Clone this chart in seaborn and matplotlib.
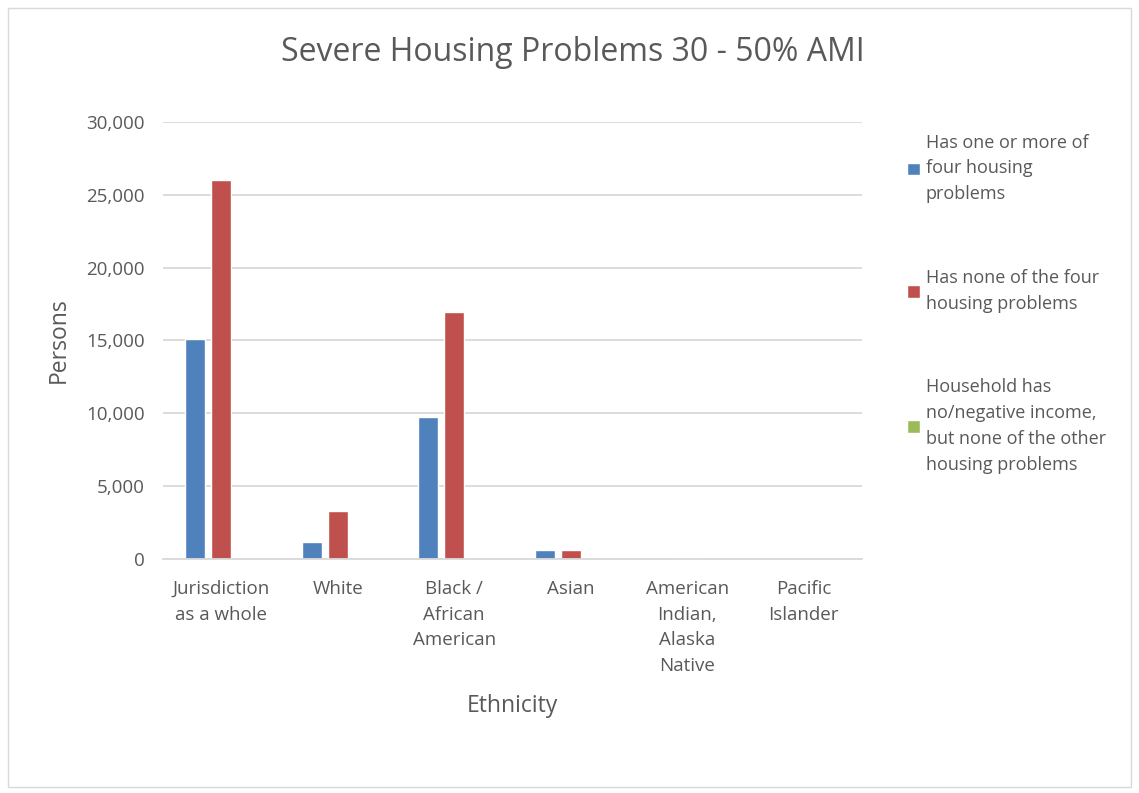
import pandas as pd
import seaborn as sns
import matplotlib.pyplot as plt
from matplotlib.ticker import FuncFormatter
from matplotlib.patches import Rectangle

sns.set_theme(style='white')
plt.rcParams['font.family'] = ['Open Sans', 'DejaVu Sans']

categories = ['Jurisdiction\nas a whole', 'White', 'Black /\nAfrican\nAmerican', 'Asian',
              'American\nIndian,\nAlaska\nNative', 'Pacific\nIslander']
series = ['Has one or more of\nfour housing\nproblems',
          'Has none of the four\nhousing problems',
          'Household has\nno/negative income,\nbut none of the other\nhousing problems']
has_problems = [15100, 1190, 9750, 600, 0, 0]
no_problems = [26000, 3300, 16950, 630, 40, 0]
no_income = [0, 0, 0, 0, 0, 0]
colors = ['#4F81BD', '#C0504D', '#9BBB59']

rows = []
for name, vals in zip(series, [has_problems, no_problems, no_income]):
    for cat, v in zip(categories, vals):
        rows.append({'Ethnicity': cat, 'Persons': v, 'Series': name})
df = pd.DataFrame(rows)

fig = plt.figure(figsize=(11.39, 7.93), dpi=100)
ax = fig.add_axes([0.1431, 0.2951, 0.6137, 0.5511])

sns.barplot(data=df, x='Ethnicity', y='Persons', hue='Series', palette=colors,
            saturation=1, width=0.67, gap=0.23, ax=ax, legend=True)

txt = '#595959'
ax.set_ylim(0, 30000)
ax.set_yticks(range(0, 30001, 5000))
ax.yaxis.set_major_formatter(FuncFormatter(lambda v, p: f'{int(v):,}'))
ax.grid(axis='y', color='#D9D9D9', linewidth=1.3)
ax.set_axisbelow(True)
for s in ['top', 'right', 'left']:
    ax.spines[s].set_visible(False)
ax.spines['bottom'].set_color('#D9D9D9')
ax.spines['bottom'].set_linewidth(1.3)
ax.tick_params(axis='both', colors=txt, labelsize=13.5, length=0)
ax.tick_params(axis='x', pad=15)
ax.tick_params(axis='y', pad=13)
for lab in ax.get_xticklabels():
    lab.set_linespacing(1.55)
ax.set_xlabel('Ethnicity', fontsize=16.5, color=txt, labelpad=14)
ax.set_ylabel('Persons', fontsize=16.5, color=txt, labelpad=11)
fig.suptitle('Severe Housing Problems 30 - 50% AMI', x=0.503, y=0.955,
             fontsize=23, color=txt)

handles, labels = ax.get_legend_handles_labels()
leg = ax.legend(handles, labels, loc='upper left', bbox_to_anchor=(1.054, 0.99),
                frameon=False, fontsize=13, labelcolor=txt, labelspacing=3.65,
                handlelength=0.7, handleheight=0.7, handletextpad=0.35, borderaxespad=0)
for t in leg.get_texts():
    t.set_linespacing(1.55)

fig.patches.append(Rectangle((0.007, 0.008), 0.986, 0.982, transform=fig.transFigure,
                             fill=False, edgecolor='#D9D9D9', linewidth=1))

plt.savefig('out.png', dpi=100)
